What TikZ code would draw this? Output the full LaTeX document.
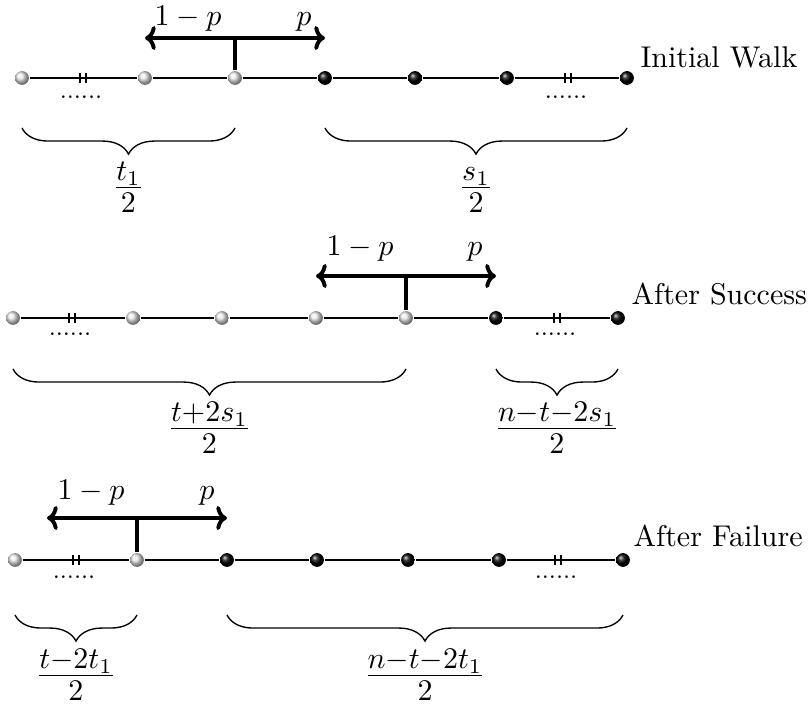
\documentclass[tikz,border=0pt]{standalone}
\usetikzlibrary{decorations.pathreplacing,arrows.meta}
\begin{document}
\begin{tikzpicture}[x=0.3333pt,y=-0.3333pt,
  chain/.style={line width=0.45pt},
  lightball/.style={circle,inner sep=0pt,minimum size=4.6pt,shading=ball,ball color=gray!18},
  darkball/.style={circle,inner sep=0pt,minimum size=4.6pt,shading=ball,ball color=black},
  choice/.style={line width=1.3pt},
  choicearrow/.style={line width=1.3pt,{Computer Modern Rightarrow[length=3.6pt,width=8pt]}-{Computer Modern Rightarrow[length=3.6pt,width=8pt]}},
  tickmark/.style={line width=0.4pt},
  dotsnode/.style={inner sep=0pt,font=\footnotesize},
  rowlabel/.style={inner sep=0pt,anchor=base west},
  plabel/.style={inner sep=0pt,anchor=base},
  bracedn/.style={decorate,decoration={brace,mirror,amplitude=8.7pt},line width=0.45pt},
  fraclabel/.style={inner sep=0pt,anchor=base,font=\Large}]
\useasboundingbox (0,0) rectangle (812,707);

% ---------- Row 1: Initial Walk ----------
\foreach \x [count=\i] in {22,145,235} \node[lightball] (r1b\i) at (\x,78) {};
\foreach \x [count=\i from 4] in {325,415,507,627} \node[darkball] (r1b\i) at (\x,78) {};
\draw[chain] (r1b1) -- (r1b2) -- (r1b3) -- (r1b4) -- (r1b5) -- (r1b6) -- (r1b7);
\foreach \x in {83,568} {
  \draw[tickmark] (\x-3,73) -- (\x-3,83);
  \draw[tickmark] (\x+3,73) -- (\x+3,83);
}
\node[dotsnode] (r1d1) at (81,97) {......};
\node[dotsnode] (r1d2) at (566,97) {......};
\coordinate (r1top) at (235,38);
\coordinate (r1L) at (145,38);
\coordinate (r1R) at (325,38);
\draw[choice] (r1b3) -- (r1top);
\draw[choicearrow] (r1L) -- (r1R);
\node[plabel] (r1q) at (188,26) {$1-p$};
\node[plabel] (r1p) at (304,26) {$p$};
\node[rowlabel] (r1name) at (640,68) {Initial Walk};
\coordinate (r1c1) at (22,128);
\coordinate (r1c2) at (235,128);
\coordinate (r1c3) at (325,128);
\coordinate (r1c4) at (627,128);
\draw[bracedn] (r1c1) -- (r1c2);
\draw[bracedn] (r1c3) -- (r1c4);
\node[fraclabel] (r1f1) at (128.5,198) {$\frac{t_1}{2}$};
\node[fraclabel] (r1f2) at (476,198) {$\frac{s_1}{2}$};

% ---------- Row 2: After Success ----------
\foreach \x [count=\i] in {13,133,222,316,406} \node[lightball] (r2b\i) at (\x,318) {};
\foreach \x [count=\i from 6] in {496,618} \node[darkball] (r2b\i) at (\x,318) {};
\draw[chain] (r2b1) -- (r2b2) -- (r2b3) -- (r2b4) -- (r2b5) -- (r2b6) -- (r2b7);
\foreach \x in {72,557} {
  \draw[tickmark] (\x-3,313) -- (\x-3,323);
  \draw[tickmark] (\x+3,313) -- (\x+3,323);
}
\node[dotsnode] (r2d1) at (70,334) {......};
\node[dotsnode] (r2d2) at (555,334) {......};
\coordinate (r2top) at (406,276);
\coordinate (r2L) at (316,276);
\coordinate (r2R) at (496,276);
\draw[choice] (r2b5) -- (r2top);
\draw[choicearrow] (r2L) -- (r2R);
\node[plabel] (r2q) at (360,256) {$1-p$};
\node[plabel] (r2p) at (475,256) {$p$};
\node[rowlabel] (r2name) at (631,305) {After Success};
\coordinate (r2c1) at (13,369);
\coordinate (r2c2) at (406,369);
\coordinate (r2c3) at (496,369);
\coordinate (r2c4) at (618,369);
\draw[bracedn] (r2c1) -- (r2c2);
\draw[bracedn] (r2c3) -- (r2c4);
\node[fraclabel] (r2f1) at (209.5,439) {$\frac{t{+}2s_1}{2}$};
\node[fraclabel] (r2f2) at (557,439) {$\frac{n{-}t{-}2s_1}{2}$};

% ---------- Row 3: After Failure ----------
\foreach \x [count=\i] in {15,137} \node[lightball] (r3b\i) at (\x,560) {};
\foreach \x [count=\i from 3] in {227,317,408,499,623} \node[darkball] (r3b\i) at (\x,560) {};
\draw[chain] (r3b1) -- (r3b2) -- (r3b3) -- (r3b4) -- (r3b5) -- (r3b6) -- (r3b7);
\foreach \x in {76,558} {
  \draw[tickmark] (\x-3,555) -- (\x-3,565);
  \draw[tickmark] (\x+3,555) -- (\x+3,565);
}
\node[dotsnode] (r3d1) at (74,577) {......};
\node[dotsnode] (r3d2) at (556,577) {......};
\coordinate (r3top) at (137,518);
\coordinate (r3L) at (47,518);
\coordinate (r3R) at (227,518);
\draw[choice] (r3b2) -- (r3top);
\draw[choicearrow] (r3L) -- (r3R);
\node[plabel] (r3q) at (91,500) {$1-p$};
\node[plabel] (r3p) at (207,500) {$p$};
\node[rowlabel] (r3name) at (633,547) {After Failure};
\coordinate (r3c1) at (15,615);
\coordinate (r3c2) at (137,615);
\coordinate (r3c3) at (227,615);
\coordinate (r3c4) at (623,615);
\draw[bracedn] (r3c1) -- (r3c2);
\draw[bracedn] (r3c3) -- (r3c4);
\node[fraclabel] (r3f1) at (76,686) {$\frac{t{-}2t_1}{2}$};
\node[fraclabel] (r3f2) at (425,686) {$\frac{n{-}t{-}2t_1}{2}$};
\end{tikzpicture}
\end{document}
